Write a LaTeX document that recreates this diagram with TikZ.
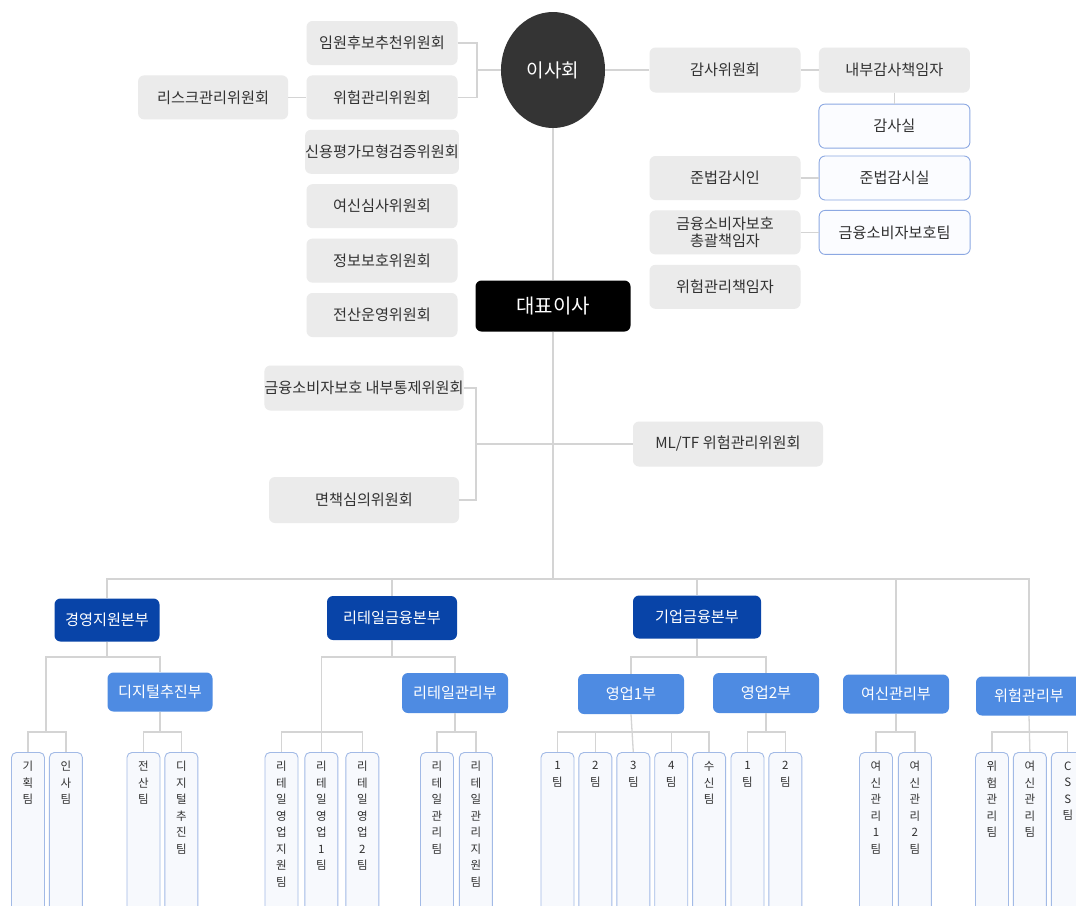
\documentclass[tikz,border=0pt]{standalone}
\usepackage{fontspec}
\setmainfont{Noto Sans CJK KR}
\usepackage{xcolor}
\usepackage{tikz}
\usetikzlibrary{shapes,arrows,positioning,calc,shapes.geometric}

\definecolor{cmtegray}{RGB}{235,235,235}
\definecolor{inkgray}{RGB}{50,50,50}
\definecolor{linegray}{RGB}{212,212,212}
\definecolor{boardgray}{RGB}{52,52,52}
\definecolor{hqblue}{RGB}{8,68,168}
\definecolor{deptblue}{RGB}{78,139,226}
\definecolor{unitblue}{RGB}{140,168,226}
\definecolor{unitfill}{RGB}{251,252,255}
\definecolor{teamblue}{RGB}{162,186,230}
\definecolor{teamfill}{RGB}{247,249,253}

\newcommand{\setfs}[2]{\fontsize{#1}{#2}\selectfont}
\newcommand{\vstack}[1]{\parbox[t][146pt][t]{14pt}{\centering #1}}

\begin{document}
\begin{tikzpicture}[x=1pt, y=-1pt, node distance=10pt, auto]
    \tikzstyle{cmte} = [rectangle, fill=cmtegray, text=inkgray, rounded corners=6pt, minimum width=151pt, minimum height=44pt, inner sep=0pt, align=center, font=\setfs{15.2}{17}]
    \tikzstyle{unit} = [cmte, draw=unitblue, fill=unitfill, line width=0.9pt]
    \tikzstyle{hq} = [rectangle, fill=hqblue, text=white, rounded corners=6pt, minimum height=43pt, inner sep=0pt, font=\setfs{15.2}{17}]
    \tikzstyle{dept} = [hq, fill=deptblue, minimum width=106pt, minimum height=40pt]
    \tikzstyle{team} = [rectangle, draw=teamblue, fill=teamfill, line width=0.9pt, rounded corners=5pt, minimum width=33pt, inner xsep=0pt, inner ysep=9pt, anchor=north, text=inkgray, font=\setfs{11.5}{16.5}]
    \tikzstyle{line} = [draw=linegray, line width=1.3pt]

    \useasboundingbox (0,0) rectangle (1076,905);
    \clip (0,0) rectangle (1076,905);
    \fill[white] (0,0) rectangle (1076,905);

    % board and committees
    \node [ellipse, fill=boardgray, text=white, minimum width=104pt, minimum height=116pt, font=\setfs{19}{22}] (board) at (553,70) {이사회};
    \node [cmte] (cA) at (382,43) {임원후보추천위원회};
    \node [cmte, below=of cA] (cB) {위험관리위원회};
    \node [cmte, left=18pt of cB, minimum width=150pt] (cR) {리스크관리위원회};
    \node [cmte, below=of cB] (cC) {신용평가모형검증위원회};
    \node [cmte, below=of cC] (cD) {여신심사위원회};
    \node [cmte, below=of cD] (cE) {정보보호위원회};
    \node [cmte, below=of cE] (cF) {전산운영위원회};

    \node [cmte, minimum height=45pt] (aud) at (725,70) {감사위원회};
    \node [cmte, minimum height=45pt, right=18pt of aud] (audh) {내부감사책임자};
    \node [unit, below=11pt of audh] (audr) {감사실};
    \node [cmte] (comp) at (725,178) {준법감시인};
    \node [unit, right=18pt of comp] (compr) {준법감시실};
    \node [cmte, below=of comp] (cons) {금융소비자보호\\총괄책임자};
    \node [unit, right=18pt of cons] (consr) {금융소비자보호팀};
    \node [cmte, below=of cons] (risk) {위험관리책임자};

    \node [rectangle, fill=black, text=white, rounded corners=6pt, minimum width=155pt, minimum height=51pt, font=\setfs{20}{23}] (ceo) at (553,306) {대표이사};
    \node [cmte, minimum width=190pt, minimum height=45pt] (cG) at (364,388) {금융소비자보호 내부통제위원회};
    \node [cmte, minimum width=190pt, minimum height=46pt] (cH) at (364,500) {면책심의위원회};
    \node [cmte, minimum width=190pt, minimum height=45pt] (mltf) at (728,444) {ML/TF 위험관리위원회};

    \coordinate (jA) at (477,70);
    \coordinate (jB) at (476,444);
    \coordinate (bus) at (553,579);

    \draw [line] (cA.east) -| (jA);
    \draw [line] (cB.east) -| (jA);
    \draw [line] (jA) -- (board.west);
    \draw [line] (cR.east) -- (cB.west);
    \draw [line] (board.east) -- (aud.west);
    \draw [line] (aud.east) -- (audh.west);
    \draw [line] (audh.south) -- (audr.north);
    \draw [line] (comp.east) -- (compr.west);
    \draw [line] (cons.east) -- (consr.west);
    \draw [line] (board.south) -- (ceo.north);
    \draw [line] (ceo.south) -- (bus);
    \draw [line] (cG.east) -| (jB);
    \draw [line] (cH.east) -| (jB);
    \draw [line] (jB) -- (mltf.west);

    % divisions
    \node [hq, minimum width=105pt] (hq1) at (107,620) {경영지원본부};
    \node [hq, minimum width=130pt, minimum height=44pt] (hq2) at (392,618) {리테일금융본부};
    \node [hq, minimum width=128pt] (hq3) at (697,617) {기업금융본부};
    \node [dept, minimum width=105pt, minimum height=39pt] (dep1) at (160,692) {디지털추진부};
    \node [dept] (dep2) at (455,693) {리테일관리부};
    \node [dept] (dep3) at (631,694) {영업1부};
    \node [dept] (dep4) at (766,693) {영업2부};
    \node [dept, minimum height=39pt] (dep5) at (896,694) {여신관리부};
    \node [dept, minimum height=39pt] (dep6) at (1029,696) {위험관리부};

    % teams
    \node [team] (t1) at (28,752) {\vstack{기\\획\\팀}};
    \node [team, right=4pt of t1] (t2) {\vstack{인\\사\\팀}};
    \node [team] (t3) at (143.5,752) {\vstack{전\\산\\팀}};
    \node [team, right=4pt of t3] (t4) {\vstack{디\\지\\털\\추\\진\\팀}};
    \node [team] (t5) at (281.5,752) {\vstack{리\\테\\일\\영\\업\\지\\원\\팀}};
    \node [team, right=6pt of t5] (t6) {\vstack{리\\테\\일\\영\\업\\1\\팀}};
    \node [team, right=7pt of t6] (t7) {\vstack{리\\테\\일\\영\\업\\2\\팀}};
    \node [team] (t8) at (437,752) {\vstack{리\\테\\일\\관\\리\\팀}};
    \node [team, right=5pt of t8] (t9) {\vstack{리\\테\\일\\관\\리\\지\\원\\팀}};
    \node [team] (t10) at (557.5,752) {\vstack{1\\팀}};
    \node [team, right=4pt of t10] (t11) {\vstack{2\\팀}};
    \node [team, right=4pt of t11] (t12) {\vstack{3\\팀}};
    \node [team, right=4pt of t12] (t13) {\vstack{4\\팀}};
    \node [team, right=4pt of t13] (t14) {\vstack{수\\신\\팀}};
    \node [team] (t15) at (747.5,752) {\vstack{1\\팀}};
    \node [team, right=4pt of t15] (t16) {\vstack{2\\팀}};
    \node [team] (t17) at (876,752) {\vstack{여\\신\\관\\리\\1\\팀}};
    \node [team, right=5pt of t17] (t18) {\vstack{여\\신\\관\\리\\2\\팀}};
    \node [team] (t19) at (992,752) {\vstack{위\\험\\관\\리\\팀}};
    \node [team, right=4pt of t19] (t20) {\vstack{여\\신\\관\\리\\팀}};
    \node [team, right=4pt of t20] (t21) {\vstack{C\\S\\S\\팀}};

    \coordinate (j1) at (107,657);
    \coordinate (j2) at (392,657);
    \coordinate (j3) at (697,657);
    \coordinate (k1) at (46,732);
    \coordinate (k2) at (160,732);
    \coordinate (k3) at (320.5,732);
    \coordinate (k4) at (455,732);
    \coordinate (k5) at (631,732);
    \coordinate (k6) at (766,732);
    \coordinate (k7) at (896,732);
    \coordinate (k8) at (1029,732);

    \draw [line] (bus) -| (hq1.north);
    \draw [line] (bus) -| (hq2.north);
    \draw [line] (bus) -| (hq3.north);
    \draw [line] (bus) -| (dep5.north);
    \draw [line] (bus) -| (dep6.north);

    \draw [line] (hq1.south) -- (j1);
    \draw [line] (j1) -| (dep1.north);
    \draw [line] (j1) -| (k1);
    \draw [line] (t1.north) |- (k1) -| (t2.north);
    \draw [line] (dep1.south) -- (k2);
    \draw [line] (t3.north) |- (k2) -| (t4.north);

    \draw [line] (hq2.south) -- (j2);
    \draw [line] (j2) -| (dep2.north);
    \draw [line] (j2) -| (t6.north);
    \draw [line] (t5.north) |- (k3) -| (t7.north);
    \draw [line] (dep2.south) -- (k4);
    \draw [line] (t8.north) |- (k4) -| (t9.north);

    \draw [line] (hq3.south) -- (j3);
    \draw [line] (j3) -| (dep3.north);
    \draw [line] (j3) -| (dep4.north);
    \draw [line] (dep3.south) -- (t12.north);
    \draw [line] (t10.north) |- (k5) -| (t14.north);
    \draw [line] (t11.north) -- (t11.north |- k5);
    \draw [line] (t13.north) -- (t13.north |- k5);
    \draw [line] (dep4.south) -- (k6);
    \draw [line] (t15.north) |- (k6) -| (t16.north);

    \draw [line] (dep5.south) -- (k7);
    \draw [line] (t17.north) |- (k7) -| (t18.north);
    \draw [line] (dep6.south) -- (t20.north);
    \draw [line] (t19.north) |- (k8) -| (t21.north);
\end{tikzpicture}
\end{document}
